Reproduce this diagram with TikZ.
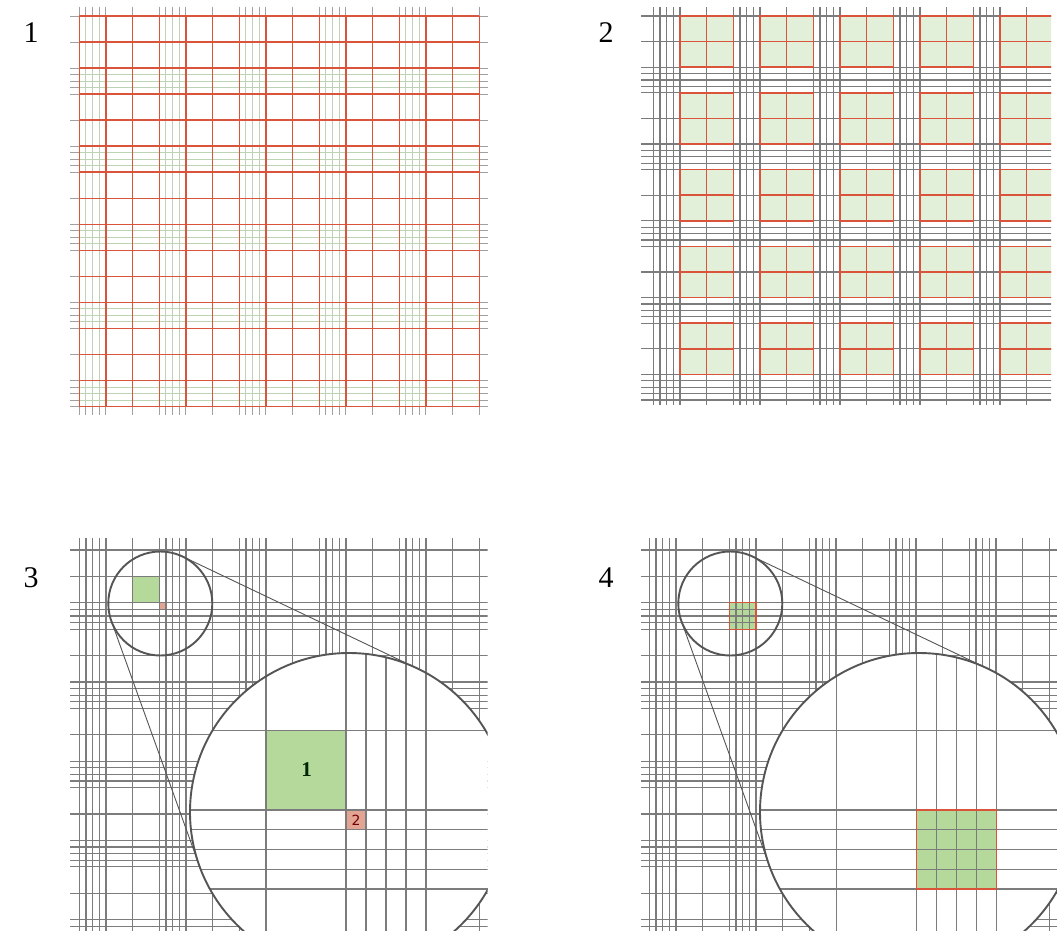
\documentclass[tikz,border=0pt]{standalone}
\usepackage{fontspec}
\setmainfont{Liberation Serif}
\newfontfamily\dvsans{DejaVu Sans}
\definecolor{gridgray}{HTML}{7C7C7C}
\definecolor{stubgray}{HTML}{A0A0A0}
\definecolor{redline}{HTML}{D9543A}
\definecolor{fineg}{HTML}{BCD4B3}
\definecolor{boxfill}{HTML}{E2EFD9}
\definecolor{sqgreen}{HTML}{B5D89B}
\definecolor{pinkcell}{HTML}{E2A593}
\definecolor{circgray}{HTML}{555555}
% #1 x0, #2 w, #3 y0, #4 h, #5 x left, #6 x right, #7 y top, #8 y bottom
\newcommand{\mainlines}[8]{%
  \foreach \k in {0,...,15}{%
    \draw ({#1+\k*#2},{#7}) -- ({#1+\k*#2},{#8});
    \draw ({#5},{#3+\k*#4}) -- ({#6},{#3+\k*#4});
  }}
\newcommand{\finelines}[8]{%
  \foreach \p in {0,...,4}{\foreach \j in {1,2,3}{%
    \draw ({#1+3*\p*#2+\j*#2/4},{#7}) -- ({#1+3*\p*#2+\j*#2/4},{#8});
    \draw ({#5},{#3+(3*\p+2)*#4+\j*#4/4}) -- ({#6},{#3+(3*\p+2)*#4+\j*#4/4});
  }}}
\tikzset{
  panellabel/.style={inner sep=0pt, font=\fontsize{30}{30}\selectfont},
  glines/.style={draw=gridgray, line width=1.35pt},
  redbox/.style={draw=redline, line width=1.6pt},
  lens/.style={draw=circgray, line width=1.9pt},
  tangent/.style={draw=circgray, line width=0.9pt}
}
\begin{document}
\begin{tikzpicture}[x=1pt,y=-1pt]
\fill[white] (0,0) rectangle (1057,930);
\useasboundingbox (0,0) rectangle (1057,930);

% ---------- labels
\node[panellabel] (lab1) at (31,33) {1};
\node[panellabel] (lab2) at (606,33) {2};
\node[panellabel] (lab3) at (31,578) {3};
\node[panellabel] (lab4) at (606,578) {4};

% ---------- panel 1
\begin{scope}[draw=stubgray, line width=1pt]
  \mainlines{79.3}{26.667}{16}{26.04}{70}{488}{6.7}{415}
  \finelines{79.3}{26.667}{16}{26.04}{70}{488}{6.7}{415}
\end{scope}
\begin{scope}[draw=fineg, line width=1pt]
  \finelines{79.3}{26.667}{16}{26.04}{79.3}{479.3}{16}{406.6}
\end{scope}
\begin{scope}[draw=redline, line width=1.5pt]
  \mainlines{79.3}{26.667}{16}{26.04}{79.3}{479.3}{16}{406.6}
\end{scope}

% ---------- panel 2
\begin{scope}
  \clip (600,0) rectangle (1051,930);
  \foreach \px in {0,...,4}{\foreach \py in {0,...,4}{%
    \fill[boxfill] ({653.3+(3*\px+1)*26.667},{16+3*\py*25.6}) rectangle ++(53.33,51.2);
  }}
  \begin{scope}[glines]
    \mainlines{653.3}{26.667}{16}{25.6}{641}{1060}{7}{405}
    \finelines{653.3}{26.667}{16}{25.6}{641}{1060}{7}{405}
  \end{scope}
  \foreach \px in {0,...,4}{\foreach \py in {0,...,4}{%
    \draw[redbox] ({653.3+(3*\px+1)*26.667},{16+3*\py*25.6}) rectangle ++(53.33,51.2);
    \draw[redbox] ({653.3+(3*\px+2)*26.667},{16+3*\py*25.6}) -- ++(0,51.2);
    \draw[redbox] ({653.3+(3*\px+1)*26.667},{16+(3*\py+1)*25.6}) -- ++(53.33,0);
  }}
\end{scope}

% ---------- panel 3
\begin{scope}
  \clip (0,520) rectangle (487.7,930);
  \fill[sqgreen] (132.63,576.4) rectangle (159.3,602.8);
  \fill[pinkcell] (159.3,602.8) rectangle (166,609.4);
  \begin{scope}[glines]
    \mainlines{79.3}{26.667}{550}{26.4}{70}{487.7}{538}{940}
    \finelines{79.3}{26.667}{550}{26.4}{70}{487.7}{538}{940}
  \end{scope}
  \draw[lens] (160.3,603.5) circle[radius=52pt];
  \fill[white] (349,812) circle[radius=159pt];
  \begin{scope}
    \clip (349,812) circle[radius=159pt];
    \fill[sqgreen] (265.9,730.7) rectangle (345.9,809.9);
    \fill[pinkcell] (345.9,809.9) rectangle (365.9,829.7);
    \begin{scope}[glines]
      \mainlines{105.9}{80}{651.5}{79.2}{150}{560}{600}{1000}
      \finelines{105.9}{80}{651.5}{79.2}{150}{560}{600}{1000}
    \end{scope}
  \end{scope}
  \node[inner sep=0pt, text=black!85!green, font=\fontsize{21}{21}\selectfont\bfseries] (one) at (306.5,769.5) {1};
  \node[inner sep=0pt, text=black!55!red, font=\dvsans\fontsize{14}{14}\selectfont] (two) at (356,820.5) {2};
  \draw[lens] (349,812) circle[radius=159pt];
\end{scope}
\coordinate (t3a) at (182.67,556.56);
\coordinate (t3b) at (417.40,668.47);
\coordinate (t3c) at (111.37,621.10);
\coordinate (t3d) at (199.38,865.81);
\draw[tangent] (t3a) -- (t3b);
\draw[tangent] (t3c) -- (t3d);

% ---------- panel 4
\begin{scope}
  \clip (560,520) rectangle (1057,930);
  \fill[sqgreen] (729.3,602.8) rectangle (756,629.2);
  \begin{scope}[glines]
    \mainlines{649.3}{26.667}{550}{26.4}{641}{1070}{538}{940}
    \finelines{649.3}{26.667}{550}{26.4}{641}{1070}{538}{940}
  \end{scope}
  \draw[redbox, line width=1.3pt] (729.3,602.8) rectangle (756,629.2);
  \draw[lens] (730.3,603.5) circle[radius=52pt];
  \fill[white] (919,812) circle[radius=159pt];
  \begin{scope}
    \clip (919,812) circle[radius=159pt];
    \fill[sqgreen] (916.6,809.9) rectangle (996.6,889.1);
    \begin{scope}[glines]
      \mainlines{676.6}{80}{651.5}{79.2}{700}{1120}{600}{1000}
      \finelines{676.6}{80}{651.5}{79.2}{700}{1120}{600}{1000}
    \end{scope}
    \draw[redbox] (916.6,809.9) rectangle (996.6,889.1);
  \end{scope}
  \draw[lens] (919,812) circle[radius=159pt];
\end{scope}
\coordinate (t4a) at (752.67,556.56);
\coordinate (t4b) at (987.40,668.47);
\coordinate (t4c) at (681.37,621.10);
\coordinate (t4d) at (769.38,865.81);
\draw[tangent] (t4a) -- (t4b);
\draw[tangent] (t4c) -- (t4d);
\end{tikzpicture}
\end{document}
